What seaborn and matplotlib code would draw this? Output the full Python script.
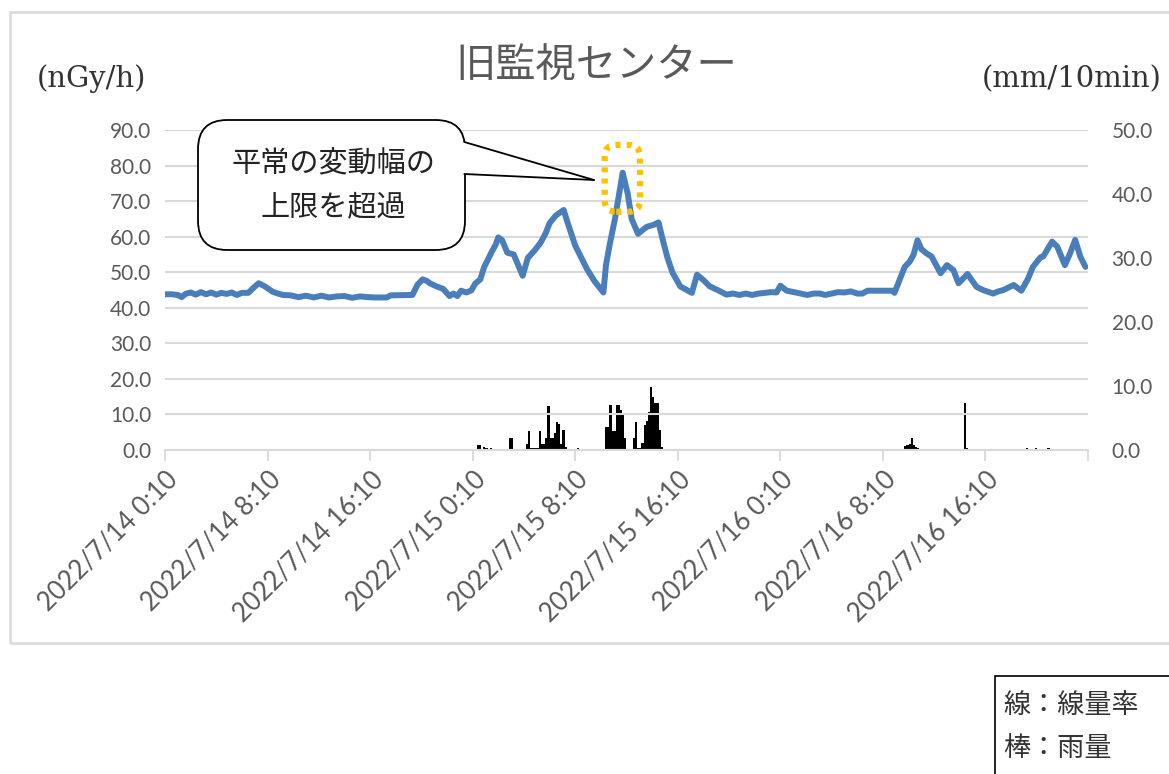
import numpy as np
import pandas as pd
import seaborn as sns
import matplotlib.pyplot as plt
from matplotlib.patches import FancyBboxPatch, Rectangle, Polygon
from matplotlib.lines import Line2D

sns.set_theme(style="white")
plt.rcParams['font.family'] = ['Lato', 'Noto Sans CJK JP', 'DejaVu Sans']

# ---- data -------------------------------------------------------------
# air dose rate (nGy/h); hours counted from 2022/7/14 0:10
dose_hours = [0.0, 0.5, 1.0, 1.3, 1.6, 2.0, 2.4, 2.8, 3.2, 3.6, 4.0, 4.4, 4.8, 5.2,
              5.6, 6.0, 6.5, 6.9, 7.3, 7.8, 8.4, 8.8, 9.2, 9.8, 10.4, 11.0, 11.6,
              12.2, 12.8, 13.4, 14.0, 14.6, 15.2, 15.8, 16.4, 17.3, 17.6, 19.3,
              19.7, 20.1, 20.4, 20.7, 21.2, 21.7, 22.2, 22.5, 22.8, 23.1, 23.5,
              23.9, 24.2, 24.6, 24.9, 25.5, 25.8, 26.0, 26.3, 26.7, 27.2, 27.9,
              28.3, 28.8, 29.3, 29.7, 30.0, 30.5, 31.1, 31.4, 32.0, 32.9, 33.5,
              34.2, 34.4, 34.7, 35.1, 35.7, 36.1, 36.4, 36.9, 37.3, 37.6, 38.1,
              38.5, 38.8, 39.2, 39.6, 40.2, 40.7, 41.1, 41.5, 42.0, 42.5, 43.1,
              43.8, 44.3, 44.8, 45.3, 45.8, 46.3, 46.8, 47.3, 47.7, 48.0, 48.5,
              49.2, 50.1, 50.6, 51.1, 51.5, 52.0, 52.5, 53.0, 53.5, 54.0, 54.4,
              54.8, 56.8, 56.9, 57.3, 57.7, 58.1, 58.4, 58.7, 59.0, 59.4, 59.8,
              60.5, 61.0, 61.5, 61.9, 62.6, 63.3, 63.8, 64.6, 65.0, 65.4, 66.2,
              66.8, 67.3, 67.7, 68.3, 68.5, 69.2, 69.6, 70.2, 70.6, 71.0, 71.4,
              71.8]
dose_values = [43.8, 43.8, 43.6, 43.0, 43.9, 44.3, 43.7, 44.4, 43.8, 44.3, 43.7, 44.2,
               43.9, 44.3, 43.6, 44.2, 44.2, 45.6, 46.9, 46.0, 44.5, 44.0, 43.6, 43.5,
               43.0, 43.4, 42.9, 43.4, 42.9, 43.2, 43.3, 42.8, 43.2, 43.0, 42.9, 42.9,
               43.5, 43.6, 46.5, 48.0, 47.6, 46.8, 46.0, 45.3, 43.3, 44.0, 43.3, 44.8,
               44.3, 44.9, 46.8, 48.0, 51.5, 55.8, 57.8, 59.8, 59.0, 55.5, 55.0, 49.0,
               54.0, 56.0, 58.3, 61.0, 63.8, 66.0, 67.5, 64.0, 57.5, 51.0, 47.5, 44.3,
               52.0, 58.0, 65.0, 78.0, 72.0, 65.0, 60.8, 62.0, 62.8, 63.3, 64.0, 59.5,
               54.0, 49.8, 46.0, 45.0, 44.2, 49.3, 47.8, 46.0, 45.0, 43.7, 44.0, 43.6,
               44.0, 43.6, 44.0, 44.2, 44.4, 44.3, 46.2, 44.8, 44.3, 43.6, 44.0, 44.0,
               43.6, 44.0, 44.4, 44.3, 44.6, 44.0, 44.0, 44.8, 44.8, 44.2, 47.8, 51.5,
               53.0, 55.0, 59.0, 56.5, 55.3, 54.4, 49.7, 52.0, 50.6, 46.9, 49.5, 45.9,
               45.0, 44.0, 44.6, 45.0, 46.4, 44.8, 48.0, 51.5, 54.2, 54.4, 58.6, 57.2,
               52.0, 55.3, 59.1, 54.4, 51.5]

# rainfall (mm/10min) by 10-minute slot index from 2022/7/14 0:10
rain_slot = [42, 49, 141, 144, 146, 147, 149, 150, 152, 154, 156, 161, 162,
             169, 170, 171, 172, 173, 174, 175, 176, 177, 178, 179, 180, 181, 182,
             183, 184, 185, 186, 187, 193,
             206, 207, 208, 209, 210, 211, 212, 213, 214, 215,
             219, 220, 221, 222, 223, 224, 225, 226, 227, 228, 229, 230, 231, 232,
             248, 310, 344, 346, 347, 348, 349, 350, 351, 352, 358, 359, 363, 366,
             374, 375, 390, 393, 395, 401, 403, 405, 407, 409, 410, 413, 416, 423]
rain_mm = [0.2, 0.2, 0.2, 0.2, 0.8, 0.8, 0.4, 0.3, 0.3, 0.2, 0.2, 1.8, 1.8,
           1.0, 2.9, 0.3, 0.3, 0.3, 0.3, 2.9, 1.0, 1.0, 1.8, 6.9, 1.8, 1.8, 2.7,
           4.3, 4.0, 1.0, 3.1, 0.5, 0.3,
           3.6, 3.6, 7.0, 3.0, 3.0, 7.0, 7.0, 6.3, 5.7, 1.8,
           1.8, 4.3, 0.3, 0.3, 1.1, 3.9, 4.5, 6.0, 9.8, 8.3, 7.3, 7.3, 3.1, 0.5,
           0.2, 0.2, 0.2, 0.7, 0.8, 1.0, 1.8, 0.8, 0.4, 0.3, 0.2, 0.2, 0.2, 0.2,
           7.4, 0.3, 0.2, 0.2, 0.2, 0.2, 0.3, 0.2, 0.3, 0.2, 0.2, 0.3, 0.2, 0.2]

tick_hours = [0, 8, 16, 24, 32, 40, 48, 56, 64, 72]
tick_labels = ["2022/7/14 0:10", "2022/7/14 8:10", "2022/7/14 16:10",
               "2022/7/15 0:10", "2022/7/15 8:10", "2022/7/15 16:10",
               "2022/7/16 0:10", "2022/7/16 8:10", "2022/7/16 16:10", ""]

title = "旧監視センター"
left_unit = "(nGy/h)"
right_unit = "(mm/10min)"
callout = "平常の変動幅の\n上限を超過"
legend_lines = ["線：線量率", "棒：雨量"]

# ---- figure -----------------------------------------------------------
W, H = 1169, 774
fig = plt.figure(figsize=(W / 100, H / 100), dpi=100)


def fx(px):
    return px / W


def fy(py):
    return 1 - py / H


ax = fig.add_axes([fx(165), fy(450), fx(1088) - fx(165), fy(130) - fy(450)])
ax2 = ax.twinx()

grey_txt = "#595959"
grid_c = "#D9D9D9"

dose_df = pd.DataFrame({"hour": dose_hours, "dose": dose_values})
sns.lineplot(data=dose_df, x="hour", y="dose", ax=ax, color="#4A7EBB",
             linewidth=4.3, solid_joinstyle="round", solid_capstyle="round",
             zorder=5)

# one bin per 10-minute slot over the 72 hours
rain_df = pd.DataFrame({"hour": (np.array(rain_slot) + 0.5) / 6.0, "mm": rain_mm})
sns.histplot(data=rain_df, x="hour", weights="mm", bins=432, binrange=(0, 72),
             ax=ax2, color="black", alpha=1, linewidth=0, element="bars")

ax.set_xlim(0, 72)
ax.set_ylim(0, 90)
ax2.set_ylim(0, 50)

ax.set_yticks(np.arange(0, 91, 10))
ax.set_yticklabels([f"{v:.1f}" for v in np.arange(0, 91, 10)])
ax2.set_yticks(np.arange(0, 51, 10))
ax2.set_yticklabels([f"{v:.1f}" for v in np.arange(0, 51, 10)])

ax.set_xticks(tick_hours)
ax.set_xticklabels(tick_labels, rotation=45, ha="right", rotation_mode="anchor")
for lbl in ax.get_xticklabels():
    lbl.set_fontsize(18.5)
    lbl.set_color(grey_txt)

for a in (ax, ax2):
    a.set_xlabel("")
    a.set_ylabel("")
    for s in a.spines.values():
        s.set_visible(False)
    a.tick_params(axis="y", length=0, labelsize=15, labelcolor=grey_txt)
ax.tick_params(axis="y", pad=10)
ax2.tick_params(axis="y", pad=17)

ax.tick_params(axis="x", length=8, width=1.3, color=grid_c, pad=4, direction="out",
               bottom=True, labelbottom=True)
ax2.tick_params(axis="x", bottom=False, labelbottom=False)
ax.spines["bottom"].set_visible(True)
ax.spines["bottom"].set_color(grid_c)
ax.spines["bottom"].set_linewidth(1.5)

ax.yaxis.grid(True, color=grid_c, linewidth=1.5)
ax.set_axisbelow(True)
ax.set_zorder(2)
ax.patch.set_visible(False)
ax2.set_zorder(1)

# peak highlight
peak = FancyBboxPatch((34.3, 67.0), 2.75, 18.8, boxstyle="round,pad=0,rounding_size=0.9",
                      transform=ax.transData, fill=False, edgecolor="#FFC000",
                      linewidth=4.5, linestyle=(0, (0.8, 1.0)), zorder=6,
                      mutation_aspect=3.5)
ax.add_patch(peak)

# callout bubble
bubble = FancyBboxPatch((fx(198), fy(250)), fx(465) - fx(198), fy(120) - fy(250),
                        boxstyle="round,pad=0,rounding_size=0.025",
                        transform=fig.transFigure, facecolor="white",
                        edgecolor="black", linewidth=1.3, zorder=10,
                        mutation_aspect=W / H)
fig.add_artist(bubble)
wedge = Polygon([(fx(462), fy(142)), (fx(594), fy(180)), (fx(462), fy(174))],
                closed=True, transform=fig.transFigure, facecolor="white",
                edgecolor="none", zorder=11)
fig.add_artist(wedge)
for y0 in (142, 174):
    fig.add_artist(Line2D([fx(464.3), fx(594)], [fy(y0), fy(180)],
                          transform=fig.transFigure, color="black", linewidth=1.3,
                          zorder=12))
fig.text(fx(333), fy(186), callout, ha="center", va="center", fontsize=21,
         family=["Noto Sans CJK JP"], color="#222222", linespacing=1.55, zorder=13)

# titles and units
fig.text(fx(596), fy(66), title, ha="center", va="center", fontsize=29,
         family=["Noto Sans CJK JP"], color=grey_txt)
fig.text(fx(91), fy(79), left_unit, ha="center", va="center", fontsize=21,
         family=["DejaVu Serif"], color="#333333")
fig.text(fx(1072), fy(79), right_unit, ha="center", va="center", fontsize=21,
         family=["DejaVu Serif"], color="#333333")

# chart frame
fig.add_artist(Rectangle((fx(10), fy(643)), fx(1190) - fx(10), fy(12) - fy(643),
                         transform=fig.transFigure, fill=False, edgecolor=grid_c,
                         linewidth=1.8, zorder=0))

# legend note box
fig.add_artist(Rectangle((fx(995), fy(790)), fx(1190) - fx(995), fy(676) - fy(790),
                         transform=fig.transFigure, fill=False, edgecolor="black",
                         linewidth=1.2))
fig.text(fx(1003), fy(705), legend_lines[0], ha="left", va="center", fontsize=19.5,
         family=["Noto Sans CJK JP"], color="#333333")
fig.text(fx(1003), fy(749), legend_lines[1], ha="left", va="center", fontsize=19.5,
         family=["Noto Sans CJK JP"], color="#333333")

fig.savefig("out.png", dpi=100, facecolor="white")
